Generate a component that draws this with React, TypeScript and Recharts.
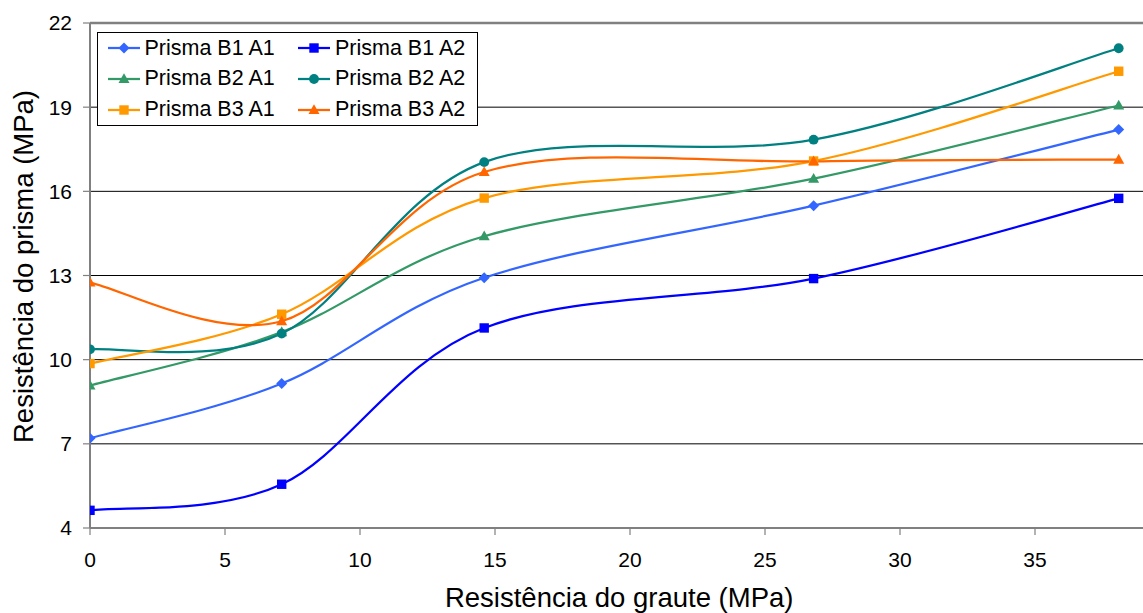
import React from 'react';
import {
  LineChart,
  Line,
  XAxis,
  YAxis,
  CartesianGrid,
  ReferenceLine,
  Legend,
  Label,
} from 'recharts';

// Grout strength (MPa) at which each prism group was tested
const grauteMPa = [0, 7.1, 14.6, 26.8, 38.1];

// Prism strength (MPa) per block / mortar combination
const prismaB1A1 = [7.2, 9.15, 12.92, 15.49, 18.2];
const prismaB1A2 = [4.63, 5.56, 11.13, 12.89, 15.75];
const prismaB2A1 = [9.08, 10.98, 14.4, 16.45, 19.06];
const prismaB2A2 = [10.37, 10.93, 17.04, 17.84, 21.1];
const prismaB3A1 = [9.86, 11.62, 15.76, 17.08, 20.28];
const prismaB3A2 = [12.75, 11.37, 16.69, 17.07, 17.13];

const xTicks = [0, 5, 10, 15, 20, 25, 30, 35];
const yTicks = [4, 7, 10, 13, 16, 19, 22];

const FONT = '"Liberation Sans", Arial, Helvetica, sans-serif';

type Shape = 'diamond' | 'square' | 'triangle' | 'circle';

const series: { key: string; name: string; color: string; shape: Shape; values: number[] }[] = [
  { key: 'b1a1', name: 'Prisma B1 A1', color: '#3366FF', shape: 'diamond', values: prismaB1A1 },
  { key: 'b1a2', name: 'Prisma B1 A2', color: '#0000FF', shape: 'square', values: prismaB1A2 },
  { key: 'b2a1', name: 'Prisma B2 A1', color: '#339966', shape: 'triangle', values: prismaB2A1 },
  { key: 'b2a2', name: 'Prisma B2 A2', color: '#008080', shape: 'circle', values: prismaB2A2 },
  { key: 'b3a1', name: 'Prisma B3 A1', color: '#FF9900', shape: 'square', values: prismaB3A1 },
  { key: 'b3a2', name: 'Prisma B3 A2', color: '#FF6600', shape: 'triangle', values: prismaB3A2 },
];

const rows = grauteMPa.map((x, i) => {
  const row: Record<string, number> = { x };
  series.forEach((s) => {
    row[s.key] = s.values[i];
  });
  return row;
});

// Smoothed line in the style of spreadsheet charts: cubic Bezier segments
// with Catmull-Rom tangents (1/6 of the neighbour chord), endpoints repeated.
function smoothCurve(context: any) {
  let xs: number[] = [];
  let ys: number[] = [];
  return {
    areaStart() {},
    areaEnd() {},
    lineStart() {
      xs = [];
      ys = [];
    },
    point(x: number, y: number) {
      xs.push(+x);
      ys.push(+y);
    },
    lineEnd() {
      const n = xs.length;
      if (!n) return;
      context.moveTo(xs[0], ys[0]);
      if (n === 1) return;
      for (let i = 0; i < n - 1; i++) {
        const p = Math.max(i - 1, 0);
        const q = Math.min(i + 2, n - 1);
        const c1x = xs[i] + (xs[i + 1] - xs[p]) / 6;
        const c1y = ys[i] + (ys[i + 1] - ys[p]) / 6;
        const c2x = xs[i + 1] - (xs[q] - xs[i]) / 6;
        const c2y = ys[i + 1] - (ys[q] - ys[i]) / 6;
        context.bezierCurveTo(c1x, c1y, c2x, c2y, xs[i + 1], ys[i + 1]);
      }
    },
  };
}

function Marker({ shape, cx, cy, color }: { shape: Shape; cx: number; cy: number; color: string }) {
  switch (shape) {
    case 'diamond':
      return (
        <polygon
          points={`${cx},${cy - 5.5} ${cx + 5.5},${cy} ${cx},${cy + 5.5} ${cx - 5.5},${cy}`}
          fill={color}
        />
      );
    case 'square':
      return <rect x={cx - 4.7} y={cy - 4.7} width={9.4} height={9.4} fill={color} />;
    case 'triangle':
      return (
        <polygon
          points={`${cx},${cy - 5.8} ${cx + 5.5},${cy + 4} ${cx - 5.5},${cy + 4}`}
          fill={color}
        />
      );
    default:
      return <circle cx={cx} cy={cy} r={4.9} fill={color} />;
  }
}

const makeDot = (shape: Shape, color: string) => (props: any) => {
  const { cx, cy, index } = props;
  return (
    <g key={`dot-${shape}-${color}-${index}`}>
      <Marker shape={shape} cx={cx} cy={cy} color={color} />
    </g>
  );
};

const LegendBox = () => (
  <div
    style={{
      width: 381,
      height: 94,
      boxSizing: 'border-box',
      border: '1px solid #000',
      background: '#fff',
      paddingTop: 0.5,
      paddingLeft: 9.5,
      display: 'grid',
      gridTemplateColumns: '190.5px 180px',
      gridAutoRows: '30.7px',
      fontFamily: FONT,
    }}
  >
    {series.map((s) => (
      <div key={s.key} style={{ display: 'flex', alignItems: 'center' }}>
        <svg width={32} height={14} style={{ display: 'block' }}>
          <line x1={0} y1={7} x2={32} y2={7} stroke={s.color} strokeWidth={2.25} />
          <Marker shape={s.shape} cx={16} cy={7} color={s.color} />
        </svg>
        <span style={{ marginLeft: 5, fontSize: 21.5, lineHeight: 1, color: '#000', whiteSpace: 'nowrap' }}>
          {s.name}
        </span>
      </div>
    ))}
  </div>
);

const XTitle = (props: any) => {
  const { viewBox } = props;
  return (
    <text
      x={viewBox.x + viewBox.width / 2 + 2.7}
      y={viewBox.y + 79}
      textAnchor="middle"
      fontSize={27.5}
      fontFamily={FONT}
      fill="#000"
    >
      Resistência do graute (MPa)
    </text>
  );
};

const YTitle = (props: any) => {
  const { viewBox } = props;
  const x = viewBox.x + 32.7;
  const y = viewBox.y + viewBox.height / 2 - 9;
  return (
    <text
      x={x}
      y={y}
      transform={`rotate(-90, ${x}, ${y})`}
      textAnchor="middle"
      fontSize={27.5}
      fontFamily={FONT}
      fill="#000"
    >
      Resistência do prisma (MPa)
    </text>
  );
};

export default function App() {
  return (
    <div style={{ position: 'fixed', left: 0, top: 0, width: 1143, height: 613, background: '#fff' }}>
      <LineChart
        width={1143}
        height={613}
        data={rows}
        margin={{ top: 23, right: 0, bottom: 0, left: 0 }}
        style={{ fontFamily: FONT }}
      >
        <CartesianGrid vertical={false} stroke="#000" strokeWidth={1} />
        <ReferenceLine y={22} stroke="#808080" strokeWidth={2.5} />
        <XAxis
          type="number"
          dataKey="x"
          domain={[0, 39]}
          ticks={xTicks}
          allowDataOverflow
          height={85}
          tickSize={7}
          tickMargin={17}
          axisLine={{ stroke: '#808080', strokeWidth: 2 }}
          tickLine={{ stroke: '#808080', strokeWidth: 1.2 }}
          tick={{ fontSize: 21, fill: '#000', fontFamily: FONT }}
        >
          <Label content={XTitle} />
        </XAxis>
        <YAxis
          type="number"
          domain={[4, 22]}
          ticks={yTicks}
          width={90}
          tickSize={7}
          tickMargin={11}
          axisLine={{ stroke: '#808080', strokeWidth: 2 }}
          tickLine={{ stroke: '#808080', strokeWidth: 1.2 }}
          tick={{ fontSize: 21, fill: '#000', fontFamily: FONT }}
        >
          <Label content={YTitle} />
        </YAxis>
        <Legend
          layout="horizontal"
          verticalAlign="middle"
          align="center"
          content={() => <LegendBox />}
          wrapperStyle={{ position: 'absolute', left: 97, top: 31.5, width: 381, height: 94, margin: 0 }}
        />
        {series.map((s) => (
          <Line
            key={s.key}
            dataKey={s.key}
            name={s.name}
            type={smoothCurve as any}
            stroke={s.color}
            strokeWidth={2.25}
            dot={makeDot(s.shape, s.color)}
            activeDot={false}
            isAnimationActive={false}
          />
        ))}
      </LineChart>
    </div>
  );
}
